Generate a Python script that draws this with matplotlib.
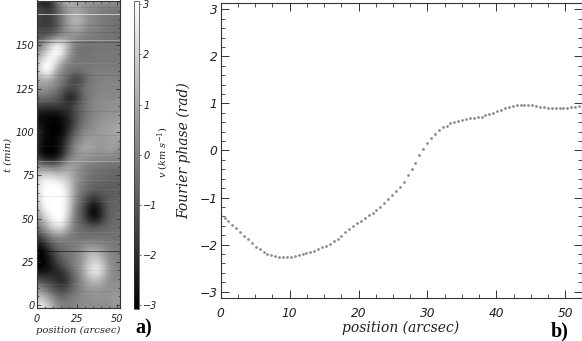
import numpy as np
import matplotlib
matplotlib.use('Agg')
import matplotlib.pyplot as plt
from matplotlib.ticker import MultipleLocator

W = 582.
H = 341.

plt.rcParams['mathtext.fontset'] = 'dejavuserif'
plt.rcParams['mathtext.default'] = 'it'

# velocity map, rows every 5 min from t=0, columns every 4 arcsec from 0
map_pos = [0, 4, 8, 12, 16, 20, 24, 28, 32, 36, 40, 44, 48, 52]
map_t = list(range(0, 180, 5))
v_map = [
    [2.5, 2.5, 1.5, 0.5, 0.0, 0.0, 0.2, 0.3, 0.3, 0.3, 0.3, 0.3, 0.5, 0.5],
    [1.5, 1.2, 0.5, -0.3, -0.6, -0.3, 0.0, 0.2, 0.4, 0.5, 0.5, 0.4, 0.8, 0.6],
    [0.3, -0.2, -0.8, -1.3, -1.5, -1.0, -0.3, 0.2, 0.6, 0.6, 0.5, 0.4, 0.4, 0.4],
    [-1.0, -1.5, -1.6, -2.0, -2.3, -1.5, -0.5, 0.3, 1.2, 1.6, 1.2, 0.4, 0.1, 0.2],
    [-3.0, -2.8, -2.5, -2.2, -1.6, -0.8, 0.0, 0.8, 2.2, 2.8, 2.3, 0.8, 0.2, 0.1],
    [-3.0, -3.0, -2.5, -1.5, -0.8, -0.3, 0.1, 0.6, 1.5, 2.0, 1.5, 0.5, 0.1, 0.0],
    [-3.0, -3.0, -2.0, -1.0, -0.5, -0.3, 0.0, 0.5, 1.3, 1.5, 0.9, 0.3, 0.0, -0.1],
    [-2.8, -2.2, -1.2, -0.6, -0.3, -0.2, 0.0, 0.1, 0.2, 0.2, 0.1, 0.0, -0.2, -0.2],
    [-1.5, -0.8, 0.0, 0.3, 0.3, -0.1, -0.3, -0.4, -0.4, -0.4, -0.4, -0.4, -0.4, -0.4],
    [-0.3, 0.5, 1.5, 2.5, 2.2, 0.8, -0.2, -0.5, -0.7, -0.8, -0.6, -0.5, -0.4, -0.4],
    [0.3, 1.5, 2.6, 3.0, 3.0, 1.3, -0.3, -1.0, -2.2, -2.8, -1.8, -0.8, -0.5, -0.4],
    [0.8, 2.6, 3.0, 3.0, 3.0, 1.8, -0.2, -1.0, -2.4, -3.0, -2.0, -0.9, -0.6, -0.5],
    [1.5, 3.0, 3.0, 3.0, 3.0, 2.0, 0.2, -0.7, -1.8, -2.2, -1.4, -0.8, -0.7, -0.6],
    [1.8, 3.0, 3.0, 3.0, 3.0, 2.0, 0.4, -0.3, -0.7, -0.9, -0.9, -0.8, -0.8, -0.7],
    [2.0, 3.0, 3.0, 3.0, 2.6, 1.8, 0.5, -0.1, -0.4, -0.6, -0.7, -0.8, -0.8, -0.8],
    [1.5, 2.0, 2.0, 1.6, 1.5, 1.2, 0.6, 0.1, -0.2, -0.4, -0.4, -0.5, -0.6, -0.7],
    [0.5, 0.2, 0.0, 0.0, 0.5, 0.9, 0.6, 0.2, -0.1, -0.2, -0.3, -0.4, -0.4, -0.4],
    [-1.5, -2.6, -2.9, -2.7, -1.5, -0.2, 0.4, 0.6, 0.4, 0.3, 0.3, 0.2, 0.1, 0.0],
    [-2.3, -3.0, -3.0, -3.0, -2.2, -0.7, 0.3, 0.8, 0.9, 0.6, 0.5, 0.8, 0.7, 0.4],
    [-1.8, -2.8, -2.9, -2.8, -2.3, -1.0, 0.0, 0.4, 0.8, 0.6, 0.6, 0.6, 0.7, 0.6],
    [-1.8, -2.6, -3.0, -3.0, -2.8, -1.8, -0.7, 0.0, 0.3, 0.5, 0.7, 0.8, 1.0, 1.1],
    [-2.5, -2.8, -3.0, -3.0, -2.8, -2.2, -1.2, -0.4, 0.1, 0.3, 0.5, 0.6, 0.7, 0.8],
    [-2.6, -2.7, -2.8, -2.8, -2.5, -2.0, -1.2, -0.6, -0.1, 0.2, 0.4, 0.4, 0.5, 0.6],
    [-1.5, -1.5, -1.6, -1.5, -1.5, -1.6, -1.0, -0.5, -0.1, 0.2, 0.3, 0.4, 0.4, 0.5],
    [-0.2, -0.3, -0.5, -0.7, -1.5, -2.5, -2.0, -0.8, -0.2, 0.1, 0.2, 0.2, 0.2, 0.2],
    [0.4, 0.5, 0.3, -0.1, -0.7, -1.2, -1.0, -0.4, -0.1, 0.0, 0.1, 0.1, 0.1, 0.1],
    [0.8, 1.0, 0.8, 0.3, -0.2, -1.0, -1.6, -1.3, -0.3, -0.1, 0.0, 0.1, 0.1, 0.0],
    [1.4, 3.0, 3.0, 0.9, 0.1, -0.2, -0.4, -0.3, -0.1, 0.0, 0.0, 0.0, 0.0, -0.1],
    [1.3, 2.8, 3.0, 2.2, 0.6, 0.0, -0.1, -0.2, -0.2, -0.2, -0.2, -0.2, -0.2, -0.2],
    [0.5, 1.5, 2.5, 3.0, 2.4, 0.7, -0.3, -0.3, -0.3, -0.2, -0.2, -0.2, -0.2, -0.2],
    [-0.3, 0.5, 2.0, 3.0, 2.5, 1.0, 0.0, -0.2, -0.3, -0.2, -0.2, -0.2, -0.2, -0.3],
    [-0.9, -1.0, -0.8, -0.3, 0.2, 0.3, 0.3, 0.1, -0.1, -0.1, -0.2, -0.3, -0.3, -0.4],
    [-1.3, -1.4, -1.4, -1.0, -0.1, 0.6, 1.0, 0.7, 0.2, 0.1, -0.1, -0.2, -0.3, -0.4],
    [-1.5, -1.8, -1.8, -1.0, 0.0, 1.0, 1.5, 1.1, 0.3, 0.2, -0.1, -0.2, -0.3, -0.4],
    [-0.9, -1.2, -1.5, -1.0, -0.1, 0.5, 0.7, 0.5, 0.2, 0.1, -0.1, -0.2, -0.2, -0.3],
    [-2.2, -2.6, -2.5, -0.5, 0.8, 1.4, 1.0, 0.8, 0.6, 0.5, 0.4, 0.4, 0.4, 0.3],
]

# horizontal streaks in the map
light_t = [168, 153, 83, 72, 42, 37, 12, 140, 128, 118, 67, 60, 92, 175]
light_a = [0.6, 0.3, 0.3, 0.08, 0.08, 0.08, 0.06, 0.08, 0.06, 0.06, 0.06, 0.06, 0.06, 0.1]
dark_t = [31, 152.3, 172, 162, 158, 148, 133, 112, 98, 88, 78, 63, 48, 20, 8]
dark_a = [0.55, 0.25, 0.08, 0.1, 0.1, 0.06, 0.08, 0.08, 0.06, 0.06, 0.06, 0.08, 0.06, 0.06, 0.05]

# fourier phase
position = [0.00, 0.57, 1.13, 1.70, 2.26, 2.83, 3.39, 3.96, 4.52, 5.09, 5.65, 6.22,
            6.78, 7.35, 7.91, 8.48, 9.04, 9.61, 10.17, 10.74, 11.30, 11.87, 12.43,
            13.00, 13.56, 14.13, 14.69, 15.26, 15.82, 16.39, 16.95, 17.52, 18.08,
            18.65, 19.21, 19.78, 20.34, 20.91, 21.47, 22.04, 22.60, 23.17, 23.73,
            24.30, 24.86, 25.43, 25.99, 26.56, 27.12, 27.69, 28.25, 28.82, 29.38,
            29.95, 30.51, 31.08, 31.64, 32.21, 32.77, 33.34, 33.90, 34.47, 35.03,
            35.60, 36.16, 36.73, 37.29, 37.86, 38.42, 38.99, 39.55, 40.12, 40.68,
            41.25, 41.81, 42.38, 42.94, 43.51, 44.07, 44.64, 45.20, 45.77, 46.33,
            46.90, 47.46, 48.03, 48.59, 49.16, 49.72, 50.29, 50.85, 51.42, 51.98]
phase = [-1.40, -1.44, -1.50, -1.58, -1.65, -1.74, -1.82, -1.89, -1.97, -2.04, -2.10,
         -2.15, -2.20, -2.22, -2.25, -2.26, -2.27, -2.27, -2.26, -2.24, -2.22, -2.20,
         -2.18, -2.16, -2.13, -2.09, -2.06, -2.02, -1.98, -1.93, -1.87, -1.81, -1.74,
         -1.67, -1.61, -1.55, -1.49, -1.43, -1.38, -1.33, -1.27, -1.20, -1.12, -1.04,
         -0.95, -0.87, -0.78, -0.66, -0.52, -0.39, -0.26, -0.10, 0.03, 0.15, 0.26,
         0.36, 0.43, 0.49, 0.53, 0.58, 0.61, 0.63, 0.65, 0.67, 0.68, 0.69, 0.71, 0.72,
         0.75, 0.77, 0.80, 0.83, 0.87, 0.90, 0.93, 0.95, 0.96, 0.96, 0.97, 0.97, 0.96,
         0.95, 0.93, 0.92, 0.91, 0.91, 0.90, 0.91, 0.91, 0.91, 0.92, 0.93, 0.94]


def box(x0, y0, x1, y1):
    # pixel box, y from the top of the picture
    return [x0 / W, 1 - y1 / H, (x1 - x0) / W, (y1 - y0) / H]


def label(x, y, s, **kw):
    fig.text(x / W, 1 - y / H, s, ha='center', va='center', **kw)


axis_col = '#333333'
serif = dict(family='DejaVu Serif', style='italic', color='#222222')

fig = plt.figure(figsize=(W / 100, H / 100), dpi=100)

# a) map
ax1 = fig.add_axes(box(36.7, 0.5, 120, 308))
ax1.imshow(v_map, cmap='gray', vmin=-3, vmax=3, origin='lower', aspect='auto',
           interpolation='bicubic',
           extent=[map_pos[0] - 2, map_pos[-1] + 2, map_t[0] - 2.5, map_t[-1] + 2.5])
ax1.hlines(light_t, 0, 52, color='white', lw=0.7, alpha=light_a)
ax1.hlines(dark_t, 0, 52, color='black', lw=0.7, alpha=dark_a)
ax1.set_xlim(0, 52)
ax1.set_ylim(-1.7, 176)
ax1.set_xticks([0, 25, 50])
ax1.set_yticks([0, 25, 50, 75, 100, 125, 150])
ax1.xaxis.set_minor_locator(MultipleLocator(5))
ax1.yaxis.set_minor_locator(MultipleLocator(5))
ax1.tick_params(axis='x', which='major', pad=4.5)
ax1.tick_params(axis='y', which='major', pad=1.5)
ax1.tick_params(which='major', direction='in', top=True, right=True, length=3, width=0.6,
                color=axis_col, labelsize=7, labelcolor='#222222')
ax1.tick_params(which='minor', direction='in', top=True, right=True, length=1.5, width=0.5,
                color=axis_col)

# colour bar
cax = fig.add_axes(box(134, 0.5, 139, 309))
sm = plt.cm.ScalarMappable(norm=plt.Normalize(-3.07, 3.07), cmap='gray')
cb = fig.colorbar(sm, cax=cax)
cb.set_ticks([-3, -2, -1, 0, 1, 2, 3])
cax.tick_params(length=1.5, width=0.5, color=axis_col, pad=1.5, labelsize=7, labelcolor='#222222')
cb.outline.set_linewidth(0.5)
cb.outline.set_edgecolor(axis_col)

# b) phase
ax2 = fig.add_axes(box(220.7, 3.3, 581.5, 297.7))
ax2.plot(position, phase, ls='none', marker='o', ms=2.0, mew=0, color='#8c8c8c')
ax2.set_xlim(0, 52.35)
ax2.set_ylim(-3.127, 3.127)
ax2.set_xticks([0, 10, 20, 30, 40, 50])
ax2.set_yticks([-3, -2, -1, 0, 1, 2, 3])
ax2.xaxis.set_minor_locator(MultipleLocator(2.5))
ax2.yaxis.set_minor_locator(MultipleLocator(0.2))
ax2.tick_params(axis='x', which='major', pad=6.5)
ax2.tick_params(axis='y', which='major', pad=2.5)
ax2.tick_params(which='major', direction='in', top=True, right=True, length=5.5, width=0.7,
                color=axis_col, labelsize=8.8, labelcolor='#222222')
ax2.tick_params(which='minor', direction='in', top=True, right=True, length=2.8, width=0.6,
                color=axis_col)

for ax in [ax1, ax2, cax]:
    for lab in ax.get_xticklabels() + ax.get_yticklabels():
        lab.set_fontstyle('oblique')
for ax in [ax1, ax2]:
    for sp in ax.spines.values():
        sp.set_linewidth(0.8)
        sp.set_color(axis_col)

label(8, 155, 't (min)', rotation=90, fontsize=7.2, **serif)
label(78, 330, 'position (arcsec)', fontsize=7.2, **serif)
label(163, 152, r'$v\ (km\ s^{-1})$', rotation=90, fontsize=7, color='#222222')
label(184, 151, 'Fourier phase (rad)', rotation=90, fontsize=10, **serif)
label(401, 328, 'position (arcsec)', fontsize=10, **serif)
label(144, 328, 'a)', fontsize=14.5, family='Liberation Serif', weight='bold')
label(560, 331, 'b)', fontsize=14.5, family='Liberation Serif', weight='bold')

fig.savefig('out.png', dpi=100)
